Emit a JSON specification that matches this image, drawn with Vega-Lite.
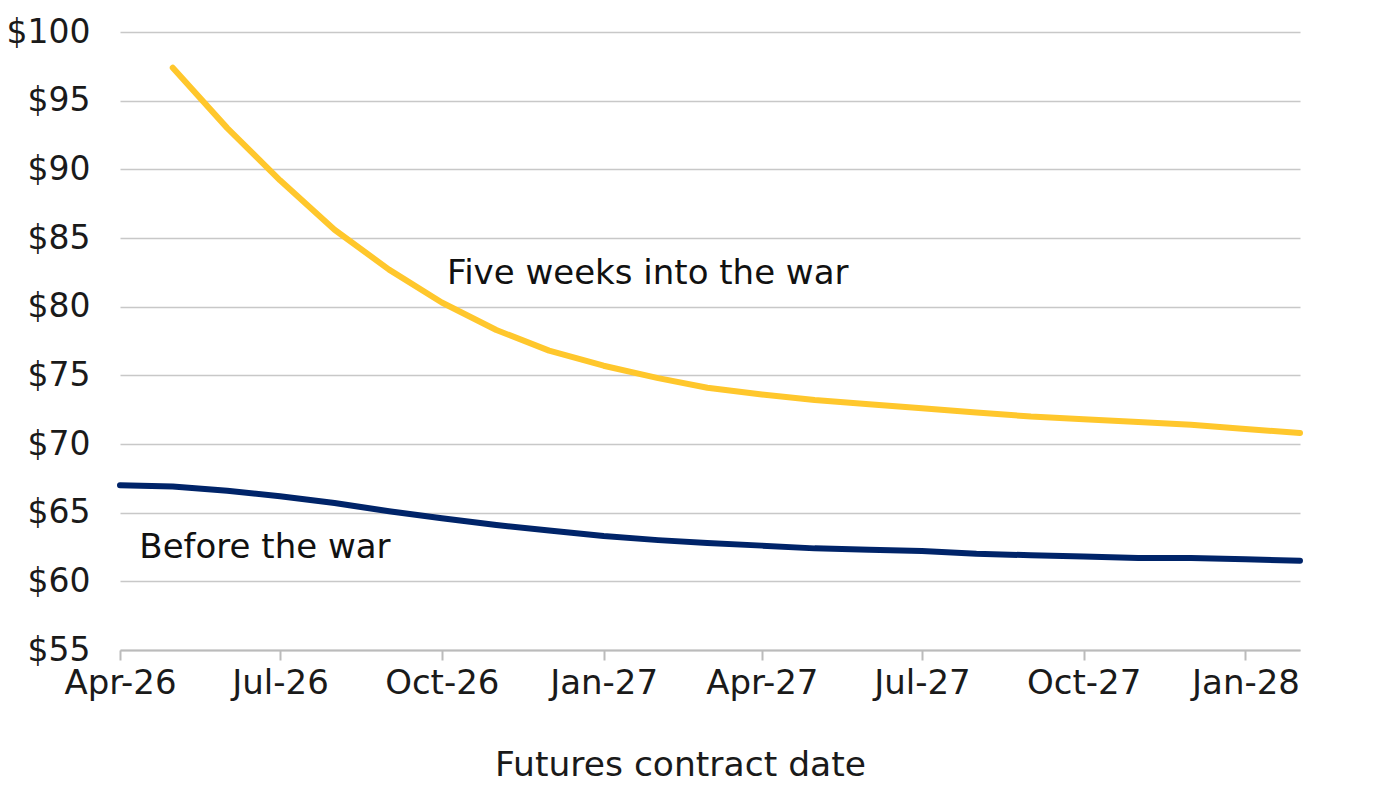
{
  "$schema": "https://vega.github.io/schema/vega-lite/v6.json",
  "width": 1180,
  "height": 618,
  "autosize": "none",
  "padding": {"left": 120, "top": 32, "right": 80, "bottom": 150},
  "background": "white",
  "config": {
    "view": {"stroke": null},
    "font": "DejaVu Sans",
    "axis": {"labelFont": "DejaVu Sans", "titleFont": "DejaVu Sans", "labelColor": "#1A1A1A", "titleColor": "#1A1A1A"}
  },
  "layer": [
    {
      "data": {
        "values": [
          {"date": "2026-05-01", "price": 97.4, "series": "Five weeks into the war"},
          {"date": "2026-06-01", "price": 93.0, "series": "Five weeks into the war"},
          {"date": "2026-07-01", "price": 89.2, "series": "Five weeks into the war"},
          {"date": "2026-08-01", "price": 85.6, "series": "Five weeks into the war"},
          {"date": "2026-09-01", "price": 82.7, "series": "Five weeks into the war"},
          {"date": "2026-10-01", "price": 80.3, "series": "Five weeks into the war"},
          {"date": "2026-11-01", "price": 78.3, "series": "Five weeks into the war"},
          {"date": "2026-12-01", "price": 76.8, "series": "Five weeks into the war"},
          {"date": "2027-01-01", "price": 75.7, "series": "Five weeks into the war"},
          {"date": "2027-02-01", "price": 74.8, "series": "Five weeks into the war"},
          {"date": "2027-03-01", "price": 74.1, "series": "Five weeks into the war"},
          {"date": "2027-04-01", "price": 73.6, "series": "Five weeks into the war"},
          {"date": "2027-05-01", "price": 73.2, "series": "Five weeks into the war"},
          {"date": "2027-06-01", "price": 72.9, "series": "Five weeks into the war"},
          {"date": "2027-07-01", "price": 72.6, "series": "Five weeks into the war"},
          {"date": "2027-08-01", "price": 72.3, "series": "Five weeks into the war"},
          {"date": "2027-09-01", "price": 72.0, "series": "Five weeks into the war"},
          {"date": "2027-10-01", "price": 71.8, "series": "Five weeks into the war"},
          {"date": "2027-11-01", "price": 71.6, "series": "Five weeks into the war"},
          {"date": "2027-12-01", "price": 71.4, "series": "Five weeks into the war"},
          {"date": "2028-01-01", "price": 71.1, "series": "Five weeks into the war"},
          {"date": "2028-02-01", "price": 70.8, "series": "Five weeks into the war"},
          {"date": "2026-04-01", "price": 67.0, "series": "Before the war"},
          {"date": "2026-05-01", "price": 66.9, "series": "Before the war"},
          {"date": "2026-06-01", "price": 66.6, "series": "Before the war"},
          {"date": "2026-07-01", "price": 66.2, "series": "Before the war"},
          {"date": "2026-08-01", "price": 65.7, "series": "Before the war"},
          {"date": "2026-09-01", "price": 65.1, "series": "Before the war"},
          {"date": "2026-10-01", "price": 64.6, "series": "Before the war"},
          {"date": "2026-11-01", "price": 64.1, "series": "Before the war"},
          {"date": "2026-12-01", "price": 63.7, "series": "Before the war"},
          {"date": "2027-01-01", "price": 63.3, "series": "Before the war"},
          {"date": "2027-02-01", "price": 63.0, "series": "Before the war"},
          {"date": "2027-03-01", "price": 62.8, "series": "Before the war"},
          {"date": "2027-04-01", "price": 62.6, "series": "Before the war"},
          {"date": "2027-05-01", "price": 62.4, "series": "Before the war"},
          {"date": "2027-06-01", "price": 62.3, "series": "Before the war"},
          {"date": "2027-07-01", "price": 62.2, "series": "Before the war"},
          {"date": "2027-08-01", "price": 62.0, "series": "Before the war"},
          {"date": "2027-09-01", "price": 61.9, "series": "Before the war"},
          {"date": "2027-10-01", "price": 61.8, "series": "Before the war"},
          {"date": "2027-11-01", "price": 61.7, "series": "Before the war"},
          {"date": "2027-12-01", "price": 61.7, "series": "Before the war"},
          {"date": "2028-01-01", "price": 61.6, "series": "Before the war"},
          {"date": "2028-02-01", "price": 61.5, "series": "Before the war"}
        ]
      },
      "mark": {"type": "line", "strokeWidth": 6, "strokeCap": "round", "strokeJoin": "round"},
      "encoding": {
        "x": {
          "field": "date",
          "type": "temporal",
          "scale": {
            "type": "utc",
            "domain": ["2026-04-01", "2028-02-01"]
          },
          "axis": {
            "title": "Futures contract date",
            "titleFontSize": 34.5,
            "titleFontWeight": "normal",
            "titlePadding": 48,
            "titleX": 560,
            "titleAlign": "center",
            "format": "%b-%y",
            "values": ["2026-04-01", "2026-07-01", "2026-10-01", "2027-01-01", "2027-04-01", "2027-07-01", "2027-10-01", "2028-01-01"],
            "labelFontSize": 34,
            "labelPadding": 6,
            "labelFlush": false,
            "labelOverlap": false,
            "grid": false,
            "domainColor": "#BBBBBB",
            "domainWidth": 2,
            "tickColor": "#BBBBBB",
            "tickWidth": 2,
            "tickSize": 10
          }
        },
        "y": {
          "field": "price",
          "type": "quantitative",
          "scale": {"domain": [55, 100], "nice": false, "zero": false},
          "axis": {
            "title": null,
            "values": [55, 60, 65, 70, 75, 80, 85, 90, 95, 100],
            "labelExpr": "'$' + datum.value",
            "labelFontSize": 33,
            "labelPadding": 30,
            "domain": false,
            "ticks": false,
            "gridColor": "#C8C8C8",
            "gridWidth": 1.5
          }
        },
        "color": {
          "field": "series",
          "type": "nominal",
          "scale": {
            "domain": ["Five weeks into the war", "Before the war"],
            "range": ["#FFC72C", "#002469"]
          },
          "legend": null
        }
      }
    },
    {
      "data": {
        "values": [
          {"date": "2026-10-04", "price": 82.4, "label": "Five weeks into the war"},
          {"date": "2026-04-12", "price": 62.4, "label": "Before the war"}
        ]
      },
      "mark": {"type": "text", "align": "left", "baseline": "middle", "fontSize": 34, "color": "#111111"},
      "encoding": {
        "x": {"field": "date", "type": "temporal"},
        "y": {"field": "price", "type": "quantitative"},
        "text": {"field": "label"}
      }
    }
  ]
}
